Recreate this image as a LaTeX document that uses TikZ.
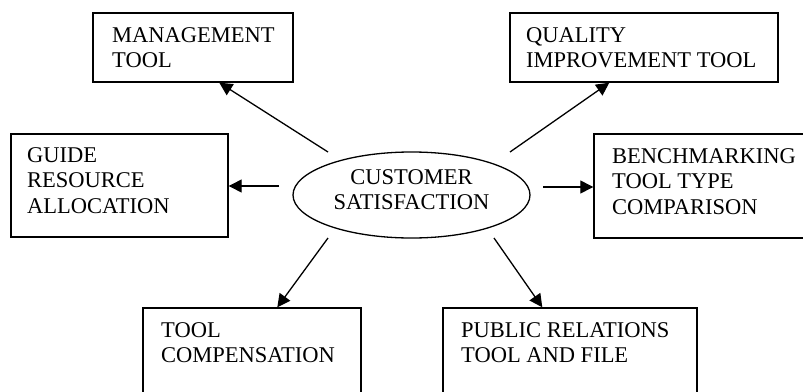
\documentclass[tikz,border=0pt]{standalone}
\usepackage{fontspec}
\setmainfont{Liberation Serif}
\usetikzlibrary{arrows.meta,calc,shapes.geometric}
\tikzset{
  boxnode/.style={draw,line width=1.4pt,inner sep=0pt},
  txt/.style={inner sep=0pt,align=left,anchor=north west,font=\fontsize{22.5}{25.5}\selectfont},
  ctxt/.style={inner sep=0pt,align=center,anchor=north,font=\fontsize{22.5}{25.5}\selectfont},
  arr/.style={line width=1.3pt,-{Triangle[length=13pt,width=13pt]}}
}
\begin{document}
\begin{tikzpicture}[x=1pt,y=-1pt]
\useasboundingbox (0,0) rectangle (803,391);
\clip (0,0) rectangle (803,391);
% boxes
\node[boxnode,minimum width=200pt,minimum height=69pt] (mg) at (193,47.5) {};
\node[boxnode,minimum width=268pt,minimum height=69pt] (ql) at (644,47.5) {};
\node[boxnode,minimum width=217pt,minimum height=103pt] (gd) at (119.5,185.5) {};
\node[boxnode,minimum width=226pt,minimum height=104pt] (bm) at (707,186) {};
\node[boxnode,minimum width=218pt,minimum height=100pt] (tc) at (252,358) {};
\node[boxnode,minimum width=254pt,minimum height=100pt] (pr) at (570,358) {};
\node[draw,line width=1.3pt,ellipse,minimum width=237pt,minimum height=86pt,inner sep=0pt] (cs) at (411.5,195) {};
% texts
\node[txt] (mgt) at (112,27.2) {MANAGEMENT\\TOOL};
\node[txt] (qlt) at (526,27.2) {QUALITY\\IMPROVEMENT TOOL};
\node[txt] (gdt) at (27,147.2) {GUIDE\\RESOURCE\\ALLOCATION};
\node[txt] (bmt) at (612,148.2) {BENCHMARKING\\TOOL TYPE\\COMPARISON};
\node[txt] (tct) at (161,322.2) {TOOL\\COMPENSATION};
\node[txt] (prt) at (461,322.2) {PUBLIC RELATIONS\\TOOL AND FILE};
\node[ctxt] (cst) at (411.5,169.2) {CUSTOMER\\SATISFACTION};
% arrow start points
\coordinate (s1) at (328,152);
\coordinate (s2) at (510,152);
\coordinate (s3) at (279,186);
\coordinate (s4) at (543,187);
\coordinate (s5) at (328,238);
\coordinate (s6) at (494,238);
% arrows
\draw[arr] (s1) -- ($(mg.south west)+(127,0)$);
\draw[arr] (s2) -- ($(ql.south west)+(100,0)$);
\draw[arr] (s3) -- (s3 -| gd.east);
\draw[arr] (s4) -- (s4 -| bm.west);
\draw[arr] (s5) -- ($(tc.north west)+(135,0)$);
\draw[arr] (s6) -- ($(pr.north west)+(100,0)$);
\end{tikzpicture}
\end{document}
